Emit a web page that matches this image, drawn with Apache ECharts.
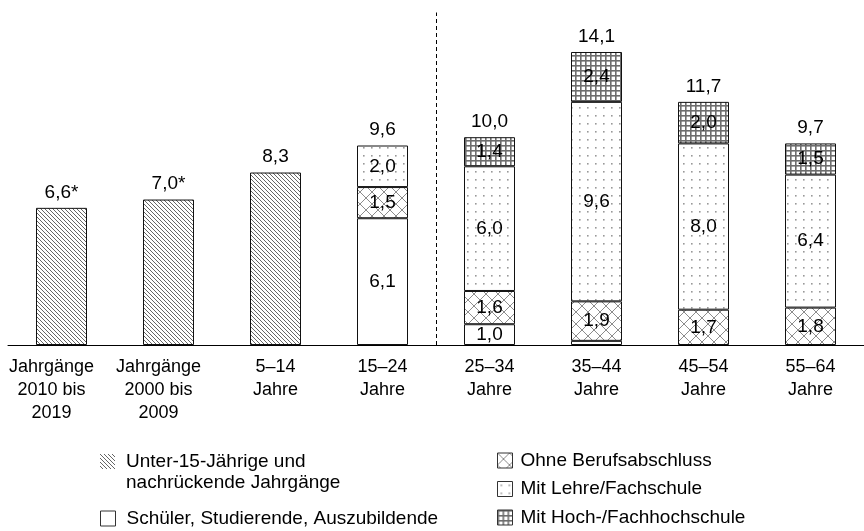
<!DOCTYPE html>
<html>
<head>
<meta charset="utf-8">
<script src="https://cdn.jsdelivr.net/npm/echarts@6/dist/echarts.min.js"></script>
<style>
  html, body { margin: 0; padding: 0; background: #fff; }
  #chart { width: 864px; height: 531px; }
</style>
</head>
<body>
<div id="chart"></div>
<script>
// Categories (age groups / birth cohorts)
const categories = [
  'Jahrgänge\n2010 bis\n2019',
  'Jahrgänge\n2000 bis\n2009',
  '5–14\nJahre',
  '15–24\nJahre',
  '25–34\nJahre',
  '35–44\nJahre',
  '45–54\nJahre',
  '55–64\nJahre'
];

// Series values (Mio.)
const unter15   = [6.6, 7.0, 8.3, null, null, null, null, null];
const estimated = [true, true, false, false, false, false, false, false];
const schueler  = [null, null, null, 6.1, 1.0, 0.2, null, null];
const ohneAbschluss = [null, null, null, 1.5, 1.6, 1.9, 1.7, 1.8];
const lehre     = [null, null, null, 2.0, 6.0, 9.6, 8.0, 6.4];
const hochschule = [null, null, null, null, 1.4, 2.4, 2.0, 1.5];
const totals    = [null, null, null, 9.6, 10.0, 14.1, 11.7, 9.7];

// Boundary between cohorts and age groups (in category units)
const dividerAt = 4;

const names = {
  u15: 'Unter-15-Jährige und\nnachrückende Jahrgänge',
  sch: 'Schüler, Studierende, Auszubildende',
  ohne: 'Ohne Berufsabschluss',
  lehre: 'Mit Lehre/Fachschule',
  hoch: 'Mit Hoch-/Fachhochschule'
};

const FONT = '"Liberation Sans", Arial, sans-serif';
const fmt = v => Number(v).toFixed(1).replace('.', ',');

// Fill patterns drawn on small canvas tiles
function tile(size, draw) {
  const c = document.createElement('canvas');
  c.width = c.height = size;
  const g = c.getContext('2d');
  g.fillStyle = '#fff';
  g.fillRect(0, 0, size, size);
  draw(g, size);
  return { image: c, repeat: 'repeat' };
}
const hatch = tile(4, (g, s) => {
  g.strokeStyle = '#666';
  g.lineWidth = 1;
  g.beginPath();
  g.moveTo(-1, -1); g.lineTo(s + 1, s + 1);
  g.moveTo(-1, s - 1); g.lineTo(1, s + 1);
  g.moveTo(s - 1, -1); g.lineTo(s + 1, 1);
  g.stroke();
});
const cross = tile(12, (g, s) => {
  g.strokeStyle = '#8c8c8c';
  g.lineWidth = 1;
  g.beginPath();
  g.moveTo(0, 0); g.lineTo(s, s);
  g.moveTo(s, 0); g.lineTo(0, s);
  g.stroke();
});
const dots = tile(8, (g) => {
  g.fillStyle = '#999';
  g.fillRect(3, 3, 1.6, 1.6);
});
const grid = tile(5, (g, s) => {
  g.fillStyle = '#6e6e6e';
  g.fillRect(0, 0, s, 1.6);
  g.fillRect(0, 0, 1.6, s);
});

const BAR_W = 51;
const LABEL_SIZE = 19;
const border = { borderColor: '#111', borderWidth: 1 };
const insideLabel = {
  show: true,
  position: 'inside',
  color: '#000',
  fontSize: LABEL_SIZE,
  fontFamily: FONT,
  formatter: p => (p.value >= 0.5 ? fmt(p.value) : '')
};

function stacked(name, data, fill) {
  return {
    name, type: 'bar', stack: 'total', data,
    barWidth: BAR_W, barGap: '-100%',
    itemStyle: Object.assign({ color: fill }, border),
    label: insideLabel,
    emphasis: { disabled: true }
  };
}

const legendText = { fontSize: 19, lineHeight: 21, color: '#000', fontFamily: FONT };

const chart = echarts.init(document.getElementById('chart'), null, { renderer: 'canvas' });

chart.setOption({
  animation: false,
  textStyle: { fontFamily: FONT, color: '#000' },
  grid: { left: 8, width: 867, top: 12.5, bottom: 186, containLabel: false },
  xAxis: [
    {
      type: 'category',
      data: categories,
      axisLine: { lineStyle: { color: '#000', width: 1 } },
      axisTick: { show: false },
      axisLabel: {
        interval: 0, color: '#000', fontSize: 18, lineHeight: 23,
        fontFamily: FONT, margin: 11,
        // the two cohort labels sit a little left of their bars
        formatter: (val, idx) => idx < 2
          ? val.split('\n').map(l => '{s|' + l + '}').join('\n')
          : val,
        rich: { s: { fontSize: 18, lineHeight: 23, color: '#000', fontFamily: FONT, padding: [0, 20, 0, 0] } }
      },
      splitLine: { show: false }
    },
    { type: 'value', min: 0, max: categories.length, show: false }
  ],
  yAxis: { type: 'value', min: 0, max: 16, show: false },
  legend: [
    {
      data: [{ name: names.u15, itemStyle: { borderWidth: 0 } }],
      formatter: n => '\n' + n,
      left: 100, top: 430, padding: 0, icon: 'rect',
      itemWidth: 15, itemHeight: 15, selectedMode: false,
      textStyle: Object.assign({ padding: [0, 0, 0, 6] }, legendText)
    },
    {
      data: [{ name: names.sch, itemStyle: { borderColor: '#333', borderWidth: 1 } }],
      left: 100, top: 508, padding: 0, icon: 'rect',
      itemWidth: 15, itemHeight: 15, selectedMode: false,
      textStyle: Object.assign({ padding: [0, 0, 0, 6] }, legendText)
    },
    {
      data: [names.ohne, names.lehre, names.hoch],
      orient: 'vertical',
      left: 497, top: 450, padding: 0, itemGap: 7.5, icon: 'rect',
      itemWidth: 15, itemHeight: 15, selectedMode: false,
      itemStyle: { borderColor: '#333', borderWidth: 1 },
      textStyle: Object.assign({ padding: [0, 0, 0, 3] }, legendText)
    }
  ],
  series: [
    {
      name: names.u15, type: 'bar', stack: 'total', data: unter15,
      barWidth: BAR_W, barGap: '-100%',
      itemStyle: Object.assign({ color: hatch }, border),
      label: {
        show: true, position: 'top', distance: 6, color: '#000',
        fontSize: LABEL_SIZE, fontFamily: FONT,
        formatter: p => fmt(p.value) + (estimated[p.dataIndex] ? '*' : '')
      },
      emphasis: { disabled: true }
    },
    stacked(names.sch, schueler, '#fff'),
    stacked(names.ohne, ohneAbschluss, cross),
    stacked(names.lehre, lehre, dots),
    stacked(names.hoch, hochschule, grid),
    {
      name: 'Insgesamt', type: 'bar', data: totals,
      barWidth: BAR_W, barGap: '-100%', z: 1,
      itemStyle: { color: 'rgba(0,0,0,0)', borderWidth: 0 },
      label: {
        show: true, position: 'top', distance: 6, color: '#000',
        fontSize: LABEL_SIZE, fontFamily: FONT,
        formatter: p => fmt(p.value)
      },
      silent: true,
      emphasis: { disabled: true }
    },
    {
      // dashed divider between birth cohorts and age groups
      name: 'Trennlinie', type: 'line', xAxisIndex: 1, yAxisIndex: 0,
      data: [[dividerAt, 0]], showSymbol: false, symbol: 'none',
      lineStyle: { opacity: 0 }, silent: true,
      markLine: {
        silent: true, symbol: 'none', label: { show: false },
        lineStyle: { color: '#000', width: 1, type: [4, 3] },
        data: [{ xAxis: dividerAt }]
      }
    }
  ]
});
</script>
</body>
</html>
